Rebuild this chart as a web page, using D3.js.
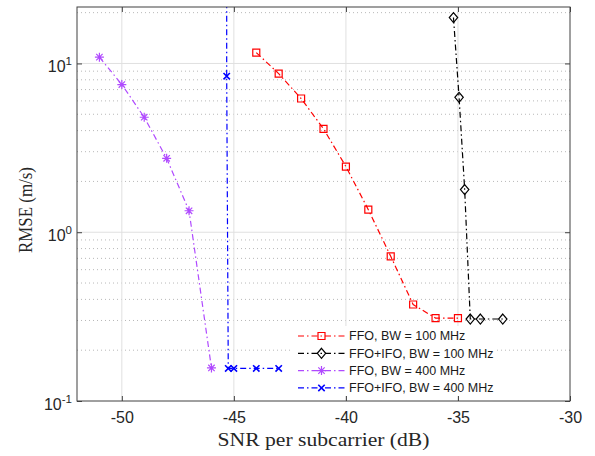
<!DOCTYPE html>
<html>
<head>
<meta charset="utf-8">
<script src="https://cdn.jsdelivr.net/npm/d3@7"></script>
<style>
  html, body { margin: 0; padding: 0; background: #fff; }
  svg { display: block; }
</style>
</head>
<body>
<svg id="chart" width="595" height="456"></svg>
<script>
// ---- data ----
const xTicks = [-50, -45, -40, -35, -30];
const yDecades = [0.1, 1, 10];
const yTickExponents = ["-1", "0", "1"];

const snrFfo100 = [-44, -43, -42, -41, -40, -39, -38, -37, -36, -35];
const rmseFfo100 = [11.6, 8.7, 6.2, 4.1, 2.45, 1.36, 0.72, 0.373, 0.31, 0.31];

const snrFfoIfo100 = [-35.2, -34.95, -34.7, -34.45, -34, -33];
const rmseFfoIfo100 = [18.7, 6.3, 1.79, 0.306, 0.306, 0.306];

const snrFfo400 = [-51, -50, -49, -48, -47, -46];
const rmseFfo400 = [10.9, 7.5, 4.8, 2.74, 1.34, 0.157];

const snrFfoIfo400 = [-45.32, -45.32, -45.25, -45, -44, -43];
const rmseFfoIfo400 = [40, 8.4, 0.156, 0.156, 0.156, 0.156];

const seriesNames = ["FFO, BW = 100 MHz", "FFO+IFO, BW = 100 MHz", "FFO, BW = 400 MHz", "FFO+IFO, BW = 400 MHz"];
const seriesColors = ["#ff0000", "#000000", "#b04aff", "#0000ff"];
const seriesMarkers = ["square", "diamond", "asterisk", "cross"];

const series = [
  {x: snrFfo100, y: rmseFfo100},
  {x: snrFfoIfo100, y: rmseFfoIfo100},
  {x: snrFfo400, y: rmseFfo400},
  {x: snrFfoIfo400, y: rmseFfoIfo400}
].map((s, i) => ({
  name: seriesNames[i], color: seriesColors[i], marker: seriesMarkers[i],
  pts: s.x.map((v, j) => [v, s.y[j]])
}));

// ---- layout ----
const L = 77, R = 570, T = 7, B = 401;
const svg = d3.select("#chart");
const x = d3.scaleLinear().domain([-52, -30]).range([L, R]);
const y = d3.scaleLog().domain([0.1, 21.6]).range([B, T]);

const tickFont = "'Liberation Sans', Arial, Helvetica, sans-serif";
const serifFont = "'Liberation Serif', 'DejaVu Serif', serif";

svg.append("rect").attr("x", L).attr("y", T).attr("width", R - L).attr("height", B - T).attr("fill", "#fff");

// minor y grid (dotted)
const minorVals = [];
[0.1, 1, 10].forEach(d => { for (let k = 2; k <= 9; k++) { const v = d * k; if (v < 21.6) minorVals.push(v); } });
svg.append("g").selectAll("line").data(minorVals).join("line")
  .attr("x1", L).attr("x2", R).attr("y1", d => y(d)).attr("y2", d => y(d))
  .attr("stroke", "#b8b8b8").attr("stroke-width", 1).attr("stroke-dasharray", "1,3");

// major grid
svg.append("g").selectAll("line").data(xTicks.filter(v => v < -30)).join("line")
  .attr("x1", d => x(d)).attr("x2", d => x(d)).attr("y1", T).attr("y2", B)
  .attr("stroke", "#e0e0e0").attr("stroke-width", 1);
svg.append("g").selectAll("line").data(yDecades.filter(v => v > 0.1)).join("line")
  .attr("x1", L).attr("x2", R).attr("y1", d => y(d)).attr("y2", d => y(d))
  .attr("stroke", "#e0e0e0").attr("stroke-width", 1);

// clip
svg.append("clipPath").attr("id", "clip").append("rect")
  .attr("x", L).attr("y", T).attr("width", R - L).attr("height", B - T);

function markerPath(type) {
  switch (type) {
    case "square": return "M-3.5,-3.5H3.5V3.5H-3.5Z";
    case "diamond": return "M0,-5L4.2,0L0,5L-4.2,0Z";
    case "asterisk": return "M-4.5,0H4.5M0,-4.5V4.5M-3.2,-3.2L3.2,3.2M-3.2,3.2L3.2,-3.2";
    case "cross": return "M-3.2,-3.2L3.2,3.2M-3.2,3.2L3.2,-3.2";
  }
}
const dash = "6,3,1.5,3";
const line = d3.line().x(d => x(d[0])).y(d => y(d[1]));

const plot = svg.append("g").attr("clip-path", "url(#clip)");
series.forEach(s => {
  plot.append("path").attr("d", line(s.pts)).attr("fill", "none")
    .attr("stroke", s.color).attr("stroke-width", 1.2).attr("stroke-dasharray", dash);
  plot.append("g").selectAll("path").data(s.pts).join("path")
    .attr("transform", d => `translate(${x(d[0])},${y(d[1])})`)
    .attr("d", markerPath(s.marker)).attr("fill", "none")
    .attr("stroke", s.color).attr("stroke-width", s.marker === "cross" ? 1.6 : 1.2);
});

// legend
const lg = svg.append("g");
const lgX = 293, lgY = 326;
lg.append("rect").attr("x", lgX).attr("y", lgY).attr("width", 203).attr("height", 70).attr("fill", "#fff");
series.forEach((s, i) => {
  const ry = 336 + i * 17.3;
  lg.append("line").attr("x1", 298).attr("x2", 345).attr("y1", ry).attr("y2", ry)
    .attr("stroke", s.color).attr("stroke-width", 1.2).attr("stroke-dasharray", dash);
  lg.append("path").attr("transform", `translate(321.5,${ry})`).attr("d", markerPath(s.marker))
    .attr("fill", "none").attr("stroke", s.color).attr("stroke-width", s.marker === "cross" ? 1.6 : 1.2);
  lg.append("text").attr("x", 349).attr("y", ry + 4.4).text(s.name)
    .attr("font-family", tickFont).attr("font-size", 12.5).attr("fill", "#1a1a1a");
});

// axes box & ticks
svg.append("rect").attr("x", L).attr("y", T).attr("width", R - L).attr("height", B - T)
  .attr("fill", "none").attr("stroke", "#404040").attr("stroke-width", 1);
const xAxisB = d3.axisBottom(x).tickValues(xTicks).tickSize(-5).tickFormat(d3.format("d"));
const gxb = svg.append("g").attr("transform", `translate(0,${B})`).call(xAxisB);
gxb.select(".domain").remove();
gxb.selectAll("line").attr("stroke", "#404040");
gxb.selectAll("text").attr("font-family", tickFont).attr("font-size", 16).attr("fill", "#262626")
  .attr("y", 7).attr("dy", "0.95em").text(d => String(d));
const xAxisT = d3.axisTop(x).tickValues(xTicks).tickSize(-5).tickFormat("");
const gxt = svg.append("g").attr("transform", `translate(0,${T})`).call(xAxisT);
gxt.select(".domain").remove();
gxt.selectAll("line").attr("stroke", "#404040");

const yAxisL = d3.axisLeft(y).tickValues(yDecades).tickSize(-5).tickFormat("");
const gyl = svg.append("g").attr("transform", `translate(${L},0)`).call(yAxisL);
gyl.select(".domain").remove();
gyl.selectAll("line").attr("stroke", "#404040");
const yAxisR = d3.axisRight(y).tickValues(yDecades).tickSize(-5).tickFormat("");
const gyr = svg.append("g").attr("transform", `translate(${R},0)`).call(yAxisR);
gyr.select(".domain").remove();
gyr.selectAll("line").attr("stroke", "#404040");

// y tick labels with superscripts
yDecades.forEach((d, i) => {
  const t = svg.append("text").attr("x", 72).attr("y", y(d) + 9).attr("text-anchor", "end")
    .attr("font-family", tickFont).attr("fill", "#262626");
  t.append("tspan").attr("font-size", 16).text("10");
  t.append("tspan").attr("font-size", 11.5).attr("dy", -7).text(yTickExponents[i]);
});

// axis titles
svg.append("text").attr("x", (L + R) / 2).attr("y", 446).attr("text-anchor", "middle")
  .attr("font-family", serifFont).attr("font-size", 18).attr("fill", "#262626")
  .attr("textLength", 212).attr("lengthAdjust", "spacingAndGlyphs")
  .text("SNR per subcarrier (dB)");
svg.append("text").attr("transform", `translate(32,${(T + B) / 2 + 6}) rotate(-90)`)
  .attr("text-anchor", "middle")
  .attr("font-family", serifFont).attr("font-size", 18).attr("fill", "#262626")
  .attr("textLength", 86).attr("lengthAdjust", "spacingAndGlyphs")
  .text("RMSE (m/s)");
</script>
</body>
</html>
